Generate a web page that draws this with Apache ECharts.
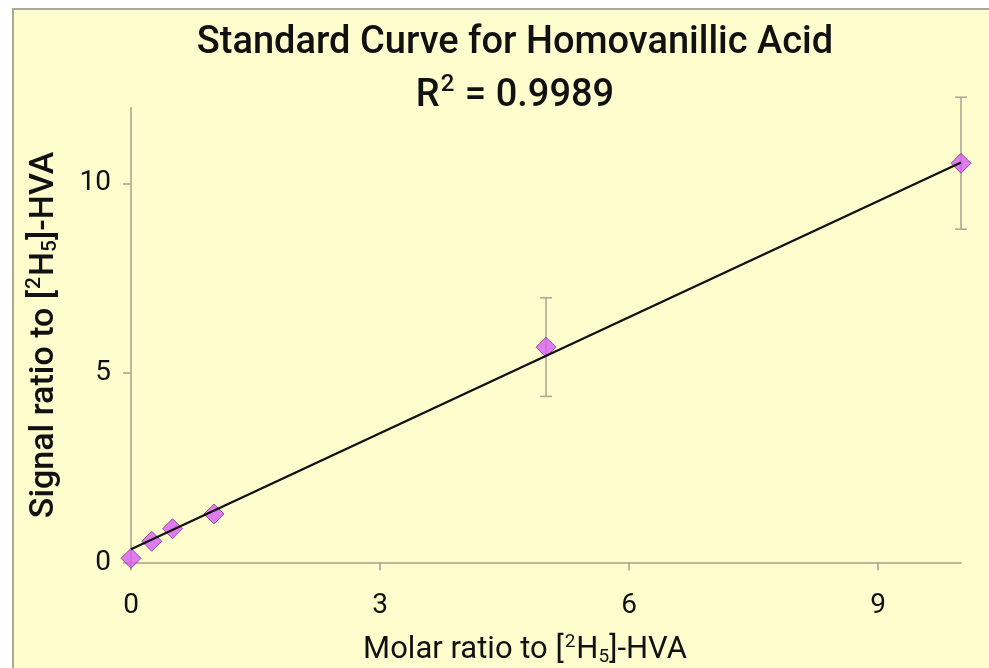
<!DOCTYPE html>
<html>
<head>
<meta charset="utf-8">
<script src="https://cdn.jsdelivr.net/npm/echarts@6/dist/echarts.min.js"></script>
<style>
  html, body { margin: 0; padding: 0; background: #ffffff; }
  #frame { position: absolute; left: 12px; top: 8px; width: 977px; height: 660px;
           background: #FFFCCD; border-left: 2px solid #A8A899; border-top: 2px solid #A8A899; box-sizing: border-box; }
  #chart { position: absolute; left: 0; top: 0; width: 989px; height: 668px; }
</style>
</head>
<body>
<div id="frame"></div>
<div id="chart"></div>
<script>
// Data
const xValues = [0, 0.25, 0.5, 1, 5, 10];
const yValues = [0.11, 0.56, 0.89, 1.28, 5.68, 10.53];
const yErrors = [0, 0, 0, 0, 1.3, 1.74];
const trendX = [0, 10];
const trendY = [0.35, 10.55];
const xTicks = [0, 3, 6, 9];
const yTicks = [0, 5, 10];

const FONT = 'Roboto, "Noto Sans", sans-serif';
const points = xValues.map((x, i) => [x, yValues[i]]);
const errData = xValues.map((x, i) => [x, yValues[i], yErrors[i]]);
const trend = trendX.map((x, i) => [x, trendY[i]]);

function richSet(big, small, shift, weight) {
  return {
    a: { fontFamily: FONT, fontSize: big, fontWeight: weight, color: '#111', lineHeight: big + 8 },
    s: { fontFamily: FONT, fontSize: small, fontWeight: weight, color: '#111', padding: [0, 1, shift, 1], lineHeight: big + 8 },
    b: { fontFamily: FONT, fontSize: small, fontWeight: weight, color: '#111', padding: [shift * 0.8, 0, 0, 0], lineHeight: big + 8 }
  };
}

const chart = echarts.init(document.getElementById('chart'), null, { renderer: 'canvas' });
chart.setOption({
  backgroundColor: 'transparent',
  animation: false,
  title: [
    {
      text: 'Standard Curve for Homovanillic Acid',
      left: 510, top: 19, textAlign: 'center',
      textStyle: { fontFamily: FONT, fontSize: 38, fontWeight: 500, color: '#111' }
    },
    {
      text: '{a|R}{s|2}{a| = 0.9989}',
      left: 510, top: 68, textAlign: 'center',
      textStyle: { rich: richSet(38, 24, 22, 500) }
    },
    {
      text: '{a|Molar ratio to [}{s|2}{a|H}{b|5}{a|]-HVA}',
      left: 520, top: 626, textAlign: 'center',
      textStyle: { rich: richSet(31, 19, 16, 'normal') }
    }
  ],
  grid: { left: 131, right: 28, top: 107.5, bottom: 105.5, containLabel: false },
  xAxis: {
    type: 'value', min: 0, max: 10,
    axisLine: { show: true, onZero: false, lineStyle: { color: '#A4A28E', width: 1.5 } },
    axisTick: { show: true, inside: false, length: 8, customValues: xTicks, lineStyle: { color: '#A4A28E', width: 1.5 } },
    axisLabel: { customValues: xTicks, margin: 29, fontFamily: FONT, fontSize: 28, color: '#111' },
    splitLine: { show: false }
  },
  yAxis: {
    type: 'value', min: 0, max: 12,
    name: '{a|Signal ratio to [}{s|2}{a|H}{b|5}{a|]-HVA}',
    nameLocation: 'middle', nameRotate: 90, nameGap: 66,
    nameTextStyle: { rich: richSet(34, 21, 18, 500) },
    axisLine: { show: true, onZero: false, lineStyle: { color: '#A4A28E', width: 1.5 } },
    axisTick: { show: true, inside: false, length: 8, customValues: yTicks, lineStyle: { color: '#A4A28E', width: 1.5 } },
    axisLabel: { customValues: yTicks, margin: 20, fontFamily: FONT, fontSize: 28, color: '#111' },
    splitLine: { show: false }
  },
  series: [
    {
      type: 'custom',
      name: 'error',
      clip: false,
      z: 1,
      data: errData,
      renderItem: function (params, api) {
        const x = api.value(0), y = api.value(1), e = api.value(2);
        if (!e) return null;
        const top = api.coord([x, y + e]);
        const bot = api.coord([x, y - e]);
        const cap = 6;
        const style = { stroke: '#A7A593', lineWidth: 1.5 };
        return {
          type: 'group',
          children: [
            { type: 'line', shape: { x1: top[0], y1: top[1], x2: bot[0], y2: bot[1] }, style: style },
            { type: 'line', shape: { x1: top[0] - cap, y1: top[1], x2: top[0] + cap, y2: top[1] }, style: style },
            { type: 'line', shape: { x1: bot[0] - cap, y1: bot[1], x2: bot[0] + cap, y2: bot[1] }, style: style }
          ]
        };
      }
    },
    {
      type: 'scatter',
      name: 'data',
      z: 2,
      symbol: 'diamond',
      symbolSize: 20,
      clip: false,
      itemStyle: { color: '#D85AF6', borderColor: '#7B3A8C', borderWidth: 1 },
      data: points
    },
    {
      type: 'line',
      name: 'trend',
      z: 3,
      showSymbol: false,
      symbol: 'none',
      lineStyle: { color: '#111', width: 2.4 },
      data: trend
    }
  ]
});
</script>
</body>
</html>
